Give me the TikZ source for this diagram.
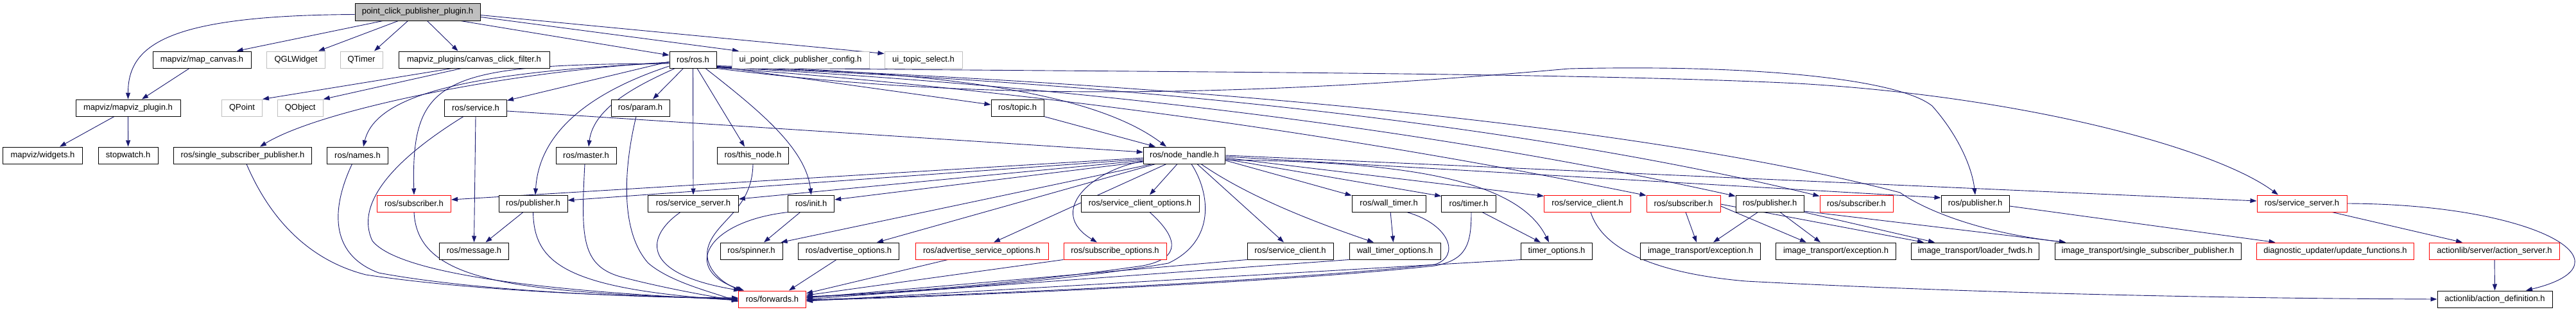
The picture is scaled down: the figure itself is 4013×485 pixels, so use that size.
\documentclass[tikz,border=0pt]{standalone}
\usepackage{fontspec}
\setmainfont{Liberation Sans}
\usetikzlibrary{arrows.meta}
\definecolor{eb}{HTML}{191970}
\definecolor{gb}{HTML}{BFBFBF}
\pgfdeclarelayer{bg}
\pgfsetlayers{bg,main}
\begin{document}
\begin{tikzpicture}[x=1pt,y=-1pt,
 nd/.style={draw=black,line width=1pt,fill=white,minimum height=26pt,inner sep=0pt,font=\fontsize{13}{15}\selectfont},
 rdn/.style={nd,draw=red},
 grn/.style={nd,draw=gb},
 edg/.style={draw=eb,line width=0.9pt,-{Triangle[length=10pt,width=7pt]}}]
\useasboundingbox (0,0) rectangle (4013,485);
% row 0
\node[nd,fill=gb,minimum width=195pt,minimum height=27pt] (T) at (650.5,18.5) {point\_click\_publisher\_plugin.h};
% row 1
\node[nd,minimum width=153pt] (mc) at (314.5,93) {mapviz/map\_canvas.h};
\node[grn,minimum width=91pt] (qgl) at (461,93) {QGLWidget};
\node[grn,minimum width=66pt] (qt) at (563,93) {QTimer};
\node[nd,minimum width=235pt] (ccf) at (738.5,93) {mapviz\_plugins/canvas\_click\_filter.h};
\node[nd,minimum width=73pt] (ros) at (1079.5,93) {ros/ros.h};
\node[grn,minimum width=214pt] (uic) at (1247,93) {ui\_point\_click\_publisher\_config.h};
\node[grn,minimum width=121pt] (uit) at (1438.5,93) {ui\_topic\_select.h};
% row 2
\node[nd,minimum width=163pt] (mp) at (199.5,168) {mapviz/mapviz\_plugin.h};
\node[grn,minimum width=63pt] (qp) at (377,168) {QPoint};
\node[grn,minimum width=71pt] (qo) at (467.7,168) {QObject};
\node[nd,minimum width=97pt] (srv) at (741,168) {ros/service.h};
\node[nd,minimum width=91pt] (par) at (997.5,168) {ros/param.h};
\node[nd,minimum width=82pt] (tpc) at (1585,168) {ros/topic.h};
% row 3
\node[nd,minimum width=124.5pt] (wid) at (66.5,242) {mapviz/widgets.h};
\node[nd,minimum width=93pt] (sw) at (199.6,242) {stopwatch.h};
\node[nd,minimum width=215pt] (ssp) at (378,242) {ros/single\_subscriber\_publisher.h};
\node[nd,minimum width=94.5pt] (nam) at (557,242) {ros/names.h};
\node[nd,minimum width=94pt] (mas) at (913,242) {ros/master.h};
\node[nd,minimum width=110.5pt] (thn) at (1173,242) {ros/this\_node.h};
\node[nd,minimum width=127.5pt] (nh) at (1845,242) {ros/node\_handle.h};
% row 4
\node[rdn,minimum width=115pt] (subL) at (645,317) {ros/subscriber.h};
\node[nd,minimum width=107pt] (pubL) at (830.5,317) {ros/publisher.h};
\node[nd,minimum width=140.5pt] (ssL) at (1080,317) {ros/service\_server.h};
\node[nd,minimum width=72pt] (ini) at (1263.7,317) {ros/init.h};
\node[nd,minimum width=184pt] (sco) at (1776,317) {ros/service\_client\_options.h};
\node[nd,minimum width=115pt] (wt) at (2163.6,317) {ros/wall\_timer.h};
\node[nd,minimum width=84.6pt] (tim) at (2288,317) {ros/timer.h};
\node[rdn,minimum width=135pt] (scR) at (2473,317) {ros/service\_client.h};
\node[rdn,minimum width=115pt] (subM) at (2622.5,317) {ros/subscriber.h};
\node[nd,minimum width=106pt] (pubM) at (2757,317) {ros/publisher.h};
\node[rdn,minimum width=114pt] (subR) at (2892,317) {ros/subscriber.h};
\node[nd,minimum width=106pt] (pubR) at (3077,317) {ros/publisher.h};
\node[rdn,minimum width=140pt] (ssR) at (3586,317) {ros/service\_server.h};
% row 5
\node[nd,minimum width=108.5pt] (msg) at (738.5,391) {ros/message.h};
\node[nd,minimum width=97pt] (spn) at (1170.5,391) {ros/spinner.h};
\node[nd,minimum width=157pt] (ado) at (1322,391) {ros/advertise\_options.h};
\node[rdn,minimum width=207pt] (aso) at (1529.5,391) {ros/advertise\_service\_options.h};
\node[rdn,minimum width=160pt] (suo) at (1737,391) {ros/subscribe\_options.h};
\node[nd,minimum width=134pt] (scB) at (2010,391) {ros/service\_client.h};
\node[nd,minimum width=142pt] (wto) at (2173,391) {wall\_timer\_options.h};
\node[nd,minimum width=110.5pt] (tio) at (2425,391) {timer\_options.h};
\node[nd,minimum width=187.5pt] (ex1) at (2649,391) {image\_transport/exception.h};
\node[nd,minimum width=186.5pt] (ex2) at (2860,391) {image\_transport/exception.h};
\node[nd,minimum width=199.5pt] (ldr) at (3077,391) {image\_transport/loader\_fwds.h};
\node[nd,minimum width=290pt] (issp) at (3346,391) {image\_transport/single\_subscriber\_publisher.h};
\node[rdn,minimum width=245pt] (upd) at (3638,391) {diagnostic\_updater/update\_functions.h};
\node[rdn,minimum width=202.6pt] (acs) at (3886,391) {actionlib/server/action\_server.h};
% row 6
\node[rdn,minimum width=105pt] (fwd) at (1203,466) {ros/forwards.h};
\node[nd,minimum width=179pt] (acd) at (3886.5,466) {actionlib/action\_definition.h};

\begin{pgfonlayer}{bg}
\fill[white] (0,0) rectangle (4013,485);
% from top
\draw[edg] ([yshift=-4pt]T.west) .. controls (260,24) and (199.5,70) .. (mp.north);
\draw[edg] ([xshift=-54pt]T.south) -- ([xshift=54pt]mc.north);
\draw[edg] ([xshift=-30pt]T.south) -- ([xshift=35pt]qgl.north);
\draw[edg] ([xshift=-15pt]T.south) -- ([xshift=20pt]qt.north);
\draw[edg] ([xshift=15pt]T.south) -- ([xshift=-25pt]ccf.north);
\draw[edg] ([xshift=67pt]T.south) -- ([yshift=7pt]ros.west);
\draw[edg] ([yshift=-8pt]T.east) -- ([xshift=-96pt]uic.north);
\draw[edg] ([yshift=-5pt]T.east) -- ([yshift=-4pt]uit.north west);
% mapviz
\draw[edg] ([xshift=-19.5pt]mc.south) -- ([xshift=21.5pt]mp.north);
\draw[edg] ([xshift=-21.5pt]mp.south) -- ([xshift=26.5pt]wid.north);
\draw[edg] (mp.south) -- (sw.north);
\draw[edg] ([xshift=-34pt]ccf.south) -- (qp.north east);
\draw[edg] ([xshift=-19.5pt]ccf.south) -- (qo.north east);
% ros.h left side
\draw[edg] ([yshift=-3pt]ros.west) -- ([yshift=-2pt]srv.north east);
\draw[edg] ([yshift=-4pt]ros.west) .. controls (800,110) and (500,170) .. ([xshift=27pt]ssp.north);
\draw[edg] ([yshift=-5pt]ros.west) .. controls (720,112) and (585,150) .. ([xshift=9pt]nam.north);
\draw[edg] ([yshift=-6pt]ros.west) .. controls (690,100) and (640,120) .. (subL.north);
\draw[edg] ([yshift=-10pt]ros.west) .. controls (930,140) and (840,200) .. ([xshift=3.5pt]pubL.north);
\draw[edg] ([xshift=-28pt]ros.south) .. controls (1000,130) and (925,165) .. ([xshift=4pt]mas.north);
\draw[edg] ([xshift=-15pt]ros.south) -- ([xshift=19.5pt]par.north);
\draw[edg] (ros.south) -- (ssL.north);
\draw[edg] ([xshift=6.5pt]ros.south) -- ([xshift=-13pt]thn.north);
\draw[edg] ([xshift=19.5pt]ros.south) .. controls (1180,170) and (1255,230) .. (ini.north);
% ros.h right side
\draw[edg] ([yshift=3pt]ros.south east) -- ([yshift=5pt]tpc.west);
\draw[edg] ([yshift=4pt]ros.south east) .. controls (1450,112) and (1700,140) .. ([xshift=-28pt]nh.north);
\draw[edg] (tpc.south east) -- ([xshift=-45pt]nh.north);
\draw[edg] ([yshift=-5pt]srv.east) -- ([yshift=5pt]nh.west);
\draw[edg] ([yshift=1pt]ros.south east) .. controls (1600,140) and (2100,210) .. ([yshift=-1pt]subM.north west);
\draw[edg] ([yshift=2pt]ros.south east) .. controls (1700,135) and (2250,205) .. ([yshift=-2pt]pubM.north west);
\draw[edg] ([yshift=2pt]ros.south east) .. controls (1800,130) and (2400,200) .. ([yshift=-2pt]subR.north west);
\draw[edg] ([yshift=3pt]ros.south east) .. controls (1700,125) and (2500,180) .. (2960,300) .. controls (2995,325) and (3080,362) .. ([xshift=-128pt]issp.north);
\draw[edg] ([yshift=2pt]ros.south east) .. controls (1500,112) and (2400,110) .. (2800,130) .. controls (3150,150) and (3450,230) .. ([xshift=-37pt]ssR.north);
\draw[edg] (ros.south east) .. controls (1500,155) and (1900,155) .. (2444,107) .. controls (2750,100) and (2960,125) .. (3010,165) .. controls (3050,210) and (3072,260) .. (pubR.north);
% node_handle left / down
\draw[edg] ([yshift=-4pt]nh.west) -- ([yshift=6pt]subL.east);
\draw[edg] ([yshift=-6pt]nh.west) -- ([yshift=5pt]pubL.east);
\draw[edg] ([yshift=-8pt]nh.west) -- ([yshift=7pt]ssL.east);
\draw[edg] ([yshift=-10pt]nh.west) -- ([yshift=6pt]ini.east);
\draw[edg] ([xshift=-50pt]nh.south) -- ([xshift=-3pt]spn.north east);
\draw[edg] ([xshift=-45pt]nh.south) -- ([xshift=44pt]ado.north);
\draw[edg] ([xshift=-28pt]nh.south) -- ([xshift=18.5pt]aso.north);
\draw[edg] ([yshift=-9pt]nh.west) .. controls (1700,265) and (1630,330) .. ([xshift=-28pt]suo.north);
\draw[edg] ([xshift=-11pt]nh.south) -- ([xshift=15pt]sco.north);
\draw[edg] ([xshift=11pt]nh.south) .. controls (1885,300) and (1895,375) .. (1820,410) .. controls (1650,440) and (1400,456) .. ([yshift=3pt]fwd.east);
\draw[edg] ([xshift=20pt]nh.south) -- ([xshift=-10pt]scB.north);
\draw[edg] ([xshift=26pt]nh.south) .. controls (1950,310) and (2060,350) .. ([xshift=-33pt]wto.north);
% node_handle right
\draw[edg] ([yshift=-8pt]nh.east) -- ([yshift=-1pt]wt.north west);
\draw[edg] ([yshift=-6pt]nh.east) -- ([yshift=-2pt]tim.north west);
\draw[edg] ([yshift=-4pt]nh.east) -- ([yshift=-2pt]scR.north west);
\draw[edg] ([yshift=-7pt]nh.east) .. controls (2150,252) and (2360,270) .. ([xshift=-12pt]tio.north);
\draw[edg] ([yshift=-2pt]nh.east) -- ([yshift=9pt]pubR.west);
\draw[edg] (nh.east) -- ([yshift=4pt]ssR.west);
% image_transport etc.
\draw[edg] ([xshift=3.5pt]subM.south) -- ([xshift=-6pt]ex1.north);
\draw[edg] ([yshift=-4pt]subM.east) -- ([xshift=-46pt]ex2.north);
\draw[edg] ([yshift=-1pt]subM.east) -- ([xshift=-80pt]ldr.north);
\draw[edg] ([xshift=-18.5pt]pubM.south) -- ([xshift=20pt]ex1.north);
\draw[edg] ([xshift=16pt]pubM.south) -- ([xshift=-24pt]ex2.north);
\draw[edg] (pubM.south east) -- ([xshift=-63pt]ldr.north);
\draw[edg] ([yshift=-12pt]pubM.east) -- ([xshift=-128pt]issp.north);
\draw[edg] ([yshift=-4pt]pubR.east) -- ([xshift=-93.5pt]upd.north);
\draw[edg] ([xshift=47pt]ssR.south) -- ([xshift=-50pt]acs.north);
\draw[edg] (ssR.east) .. controls (3950,318) and (4110,410) .. ([xshift=48.5pt]acd.north);
\draw[edg] (acs.south) -- (acd.north);
\draw[edg] ([xshift=5pt]scR.south) .. controls (2495,385) and (2570,425) .. (2720,438) .. controls (3100,458) and (3500,465) .. (acd.west);
% small ones
\draw[edg] ([xshift=-15.5pt]pubL.south) -- ([xshift=18pt]msg.north);
\draw[edg] (srv.south) -- (msg.north);
\draw[edg] ([xshift=-17pt]ini.south) -- ([xshift=19.5pt]spn.north);
\draw[edg] ([xshift=2.5pt]wt.south) -- ([xshift=-2.5pt]wto.north);
\draw[edg] ([xshift=21pt]tim.south) -- ([xshift=-25pt]tio.north);
% into forwards
\draw[edg] ([xshift=6pt]ssp.south) .. controls (420,340) and (480,405) .. (570,428) .. controls (750,455) and (1000,463) .. ([yshift=2pt]fwd.west);
\draw[edg] ([xshift=-8.5pt]nam.south) .. controls (518,320) and (510,395) .. (590,425) .. controls (750,455) and (1000,463) .. ([yshift=1pt]fwd.west);
\draw[edg] (subL.south) .. controls (650,440) and (800,455) .. (fwd.west);
\draw[edg] ([xshift=-19pt]srv.south) .. controls (660,220) and (545,300) .. (580,375) .. controls (615,420) and (800,452) .. ([yshift=-1pt]fwd.west);
\draw[edg] (pubL.south) .. controls (832,410) and (880,450) .. ([yshift=-2pt]fwd.west);
\draw[edg] ([xshift=-2pt]mas.south) .. controls (905,370) and (905,415) .. (970,432) .. controls (1040,450) and (1100,460) .. ([yshift=-3pt]fwd.west);
\draw[edg] ([xshift=-6.5pt]par.south) .. controls (972,260) and (965,360) .. (1010,410) .. controls (1045,440) and (1110,455) .. ([yshift=-4pt]fwd.west);
\draw[edg] ([xshift=-20pt]ssL.south) .. controls (1010,365) and (990,425) .. ([xshift=3pt]fwd.north west);
\draw[edg] (thn.south) .. controls (1172,330) and (1110,345) .. (1102,390) .. controls (1098,425) and (1135,445) .. ([xshift=6pt]fwd.north west);
\draw[edg] ([xshift=-36pt]ini.south) .. controls (1100,345) and (1060,420) .. ([xshift=9pt]fwd.north west);
\draw[edg] ([xshift=-19pt]ado.south) -- ([xshift=26pt]fwd.north);
\draw[edg] ([xshift=-53pt]aso.south) -- ([yshift=9pt]fwd.east);
\draw[edg] (suo.south west) -- ([yshift=6pt]fwd.east);
\draw[edg] ([xshift=15pt]sco.south) .. controls (1835,370) and (1842,402) .. (1780,414) .. controls (1600,440) and (1400,456) .. ([yshift=4pt]fwd.east);
\draw[edg] (scB.south west) -- ([yshift=2pt]fwd.east);
\draw[edg] (wto.south west) -- (fwd.east);
\draw[edg] ([xshift=28pt]wt.south) .. controls (2260,350) and (2275,400) .. (2235,412) .. controls (2000,438) and (1500,460) .. ([yshift=-1pt]fwd.east);
\draw[edg] ([xshift=4pt]tim.south) .. controls (2292,380) and (2285,405) .. (2235,414) .. controls (2000,440) and (1500,461) .. ([yshift=-2pt]fwd.east);
\draw[edg] (tio.south west) -- ([yshift=-3pt]fwd.east);
\end{pgfonlayer}
\end{tikzpicture}
\end{document}
